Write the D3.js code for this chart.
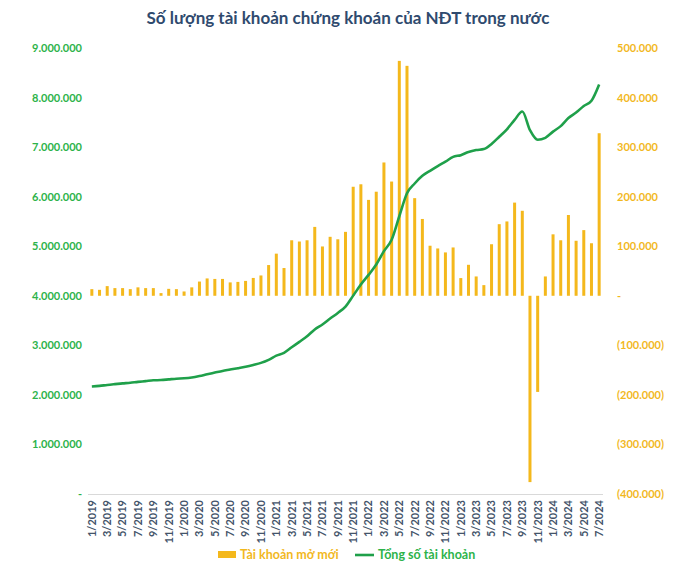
<!DOCTYPE html>
<html>
<head>
<meta charset="utf-8">
<script src="https://cdn.jsdelivr.net/npm/d3@7"></script>
<style>
  html, body { margin: 0; padding: 0; background: #fff; }
  svg { display: block; }
  text { font-family: Lato, "Open Sans", sans-serif; }
</style>
</head>
<body>
<svg id="chart" width="696" height="584"></svg>
<script>
// ---- Data ----
const months = [
  "1/2019","2/2019","3/2019","4/2019","5/2019","6/2019","7/2019","8/2019","9/2019","10/2019","11/2019","12/2019",
  "1/2020","2/2020","3/2020","4/2020","5/2020","6/2020","7/2020","8/2020","9/2020","10/2020","11/2020","12/2020",
  "1/2021","2/2021","3/2021","4/2021","5/2021","6/2021","7/2021","8/2021","9/2021","10/2021","11/2021","12/2021",
  "1/2022","2/2022","3/2022","4/2022","5/2022","6/2022","7/2022","8/2022","9/2022","10/2022","11/2022","12/2022",
  "1/2023","2/2023","3/2023","4/2023","5/2023","6/2023","7/2023","8/2023","9/2023","10/2023","11/2023","12/2023",
  "1/2024","2/2024","3/2024","4/2024","5/2024","6/2024","7/2024"
];
// New accounts opened (right axis)
const newAccounts = [
  13400, 12000, 19500, 15500, 15500, 13400, 17000, 15500, 15500, 5400, 14000, 13400,
  8700, 17000, 28700, 35000, 34000, 34000, 27000, 28000, 30000, 36000, 41000, 62000,
  85000, 56000, 112000, 109500, 112000, 139000, 99500, 119000, 114000, 129000, 220000, 225000,
  193500, 210000, 269000, 230500, 474000, 464000, 197000, 155000, 101000, 95500, 87500, 97500,
  35700, 62500, 39000, 21500, 104000, 144500, 150000, 188000, 171500, -376000, -194000, 39000,
  124000, 112000, 163000, 111000, 132500, 106000, 328000
];
// Total accounts (left axis)
const totalAccounts = [
  2170000, 2182000, 2201000, 2217000, 2232000, 2246000, 2263000, 2278000, 2294000, 2299000, 2313000, 2327000,
  2335000, 2352000, 2381000, 2416000, 2450000, 2484000, 2511000, 2539000, 2569000, 2605000, 2646000, 2708000,
  2793000, 2849000, 2961000, 3070000, 3182000, 3321000, 3421000, 3540000, 3654000, 3783000, 4003000, 4228000,
  4421000, 4631000, 4900000, 5131000, 5605000, 6069000, 6266000, 6421000, 6522000, 6618000, 6705000, 6803000,
  6838000, 6901000, 6940000, 6961000, 7065000, 7210000, 7360000, 7548000, 7719000, 7343000, 7149000, 7188000,
  7312000, 7424000, 7587000, 7698000, 7830000, 7936000, 8264000
];
const leftTicks = [0, 1000000, 2000000, 3000000, 4000000, 5000000, 6000000, 7000000, 8000000, 9000000];
const rightTicks = [-400000, -300000, -200000, -100000, 0, 100000, 200000, 300000, 400000, 500000];
const xTickLabels = months.filter((m, i) => i % 2 === 0);
const title = "Số lượng tài khoản chứng khoán của NĐT trong nước";
const legendLabels = ["Tài khoản mở mới", "Tổng số tài khoản"];

// ---- Style ----
const barColor = "#F4B81C";
const lineColor = "#1FA04A";
const leftColor = "#2DB34A";
const rightColor = "#F2B81E";
const axisTextColor = "#44546A";
const titleColor = "#2F4A6E";

const svg = d3.select("#chart");
const margin = { left: 88, right: 93, top: 48, bottom: 90 };
const W = 696, H = 584;
const plotL = margin.left, plotR = W - margin.right, plotT = margin.top, plotB = H - margin.bottom;

const x = d3.scaleBand().domain(months).range([plotL, plotR]).paddingInner(0.6).paddingOuter(0.3);
const yL = d3.scaleLinear().domain([0, 9000000]).range([plotB, plotT]);
const yR = d3.scaleLinear().domain([-400000, 500000]).range([plotB, plotT]);

const fmtThousands = d3.formatLocale({ decimal: ",", thousands: ".", grouping: [3], currency: ["", ""] }).format(",.0f");
const fmtLeft = v => v === 0 ? "-" : fmtThousands(v);
const fmtRight = v => v === 0 ? "-" : (v < 0 ? "(" + fmtThousands(-v) + ")" : fmtThousands(v));

// Title
svg.append("text")
  .attr("x", W / 2).attr("y", 24)
  .attr("text-anchor", "middle")
  .attr("font-size", 17).attr("font-weight", 700)
  .attr("fill", titleColor)
  .text(title);

// X axis line
svg.append("line")
  .attr("x1", plotL).attr("x2", plotR)
  .attr("y1", plotB + 0.5).attr("y2", plotB + 0.5)
  .attr("stroke", "#D9D9D9").attr("stroke-width", 1);

// Bars
const bw = 3;
svg.append("g").selectAll("rect").data(months).join("rect")
  .attr("x", (d) => x(d) + x.bandwidth() / 2 - bw / 2)
  .attr("width", bw)
  .attr("y", (d, i) => yR(Math.max(0, newAccounts[i])))
  .attr("height", (d, i) => Math.abs(yR(newAccounts[i]) - yR(0)))
  .attr("fill", barColor);

// Line
const line = d3.line()
  .x((d, i) => x(months[i]) + x.bandwidth() / 2)
  .y(d => yL(d))
  .curve(d3.curveMonotoneX);
svg.append("path")
  .datum(totalAccounts)
  .attr("d", line)
  .attr("fill", "none")
  .attr("stroke", lineColor)
  .attr("stroke-width", 2.6)
  .attr("stroke-linejoin", "round");

// Left axis
const axL = d3.axisLeft(yL).tickValues(leftTicks).tickFormat(fmtLeft).tickSize(0).tickPadding(6);
const gL = svg.append("g").attr("transform", `translate(${plotL},0)`).call(axL);
gL.select(".domain").remove();
gL.selectAll("text").attr("fill", leftColor).attr("font-size", 11).attr("font-weight", 700)
  .attr("font-family", "Lato, sans-serif");

// Right axis
const axR = d3.axisRight(yR).tickValues(rightTicks).tickFormat(fmtRight).tickSize(0).tickPadding(14);
const gR = svg.append("g").attr("transform", `translate(${plotR},0)`).call(axR);
gR.select(".domain").remove();
gR.selectAll("text").attr("fill", rightColor).attr("font-size", 11).attr("font-weight", 700)
  .attr("font-family", "Lato, sans-serif");

// X axis labels
const axX = d3.axisBottom(x).tickValues(xTickLabels).tickSize(0).tickPadding(0);
const gX = svg.append("g").attr("transform", `translate(0,${plotB})`).call(axX);
gX.select(".domain").remove();
gX.selectAll("text")
  .attr("fill", axisTextColor).attr("font-size", 11).attr("font-weight", 700)
  .attr("font-family", "Lato, sans-serif")
  .attr("text-anchor", "end")
  .attr("dy", "0.35em")
  .attr("transform", "translate(0,6) rotate(-90)")
  .attr("x", 0).attr("y", 0);

// Legend
const lg = svg.append("g");
lg.append("rect").attr("x", 218).attr("y", 551).attr("width", 18).attr("height", 7).attr("fill", barColor);
lg.append("text").attr("x", 240).attr("y", 559).attr("font-size", 12.5).attr("font-weight", 700)
  .attr("fill", rightColor).text(legendLabels[0]);
lg.append("line").attr("x1", 355).attr("x2", 374).attr("y1", 555).attr("y2", 555)
  .attr("stroke", lineColor).attr("stroke-width", 2.6);
lg.append("text").attr("x", 378).attr("y", 559).attr("font-size", 12.5).attr("font-weight", 700)
  .attr("fill", leftColor).text(legendLabels[1]);
</script>
</body>
</html>
